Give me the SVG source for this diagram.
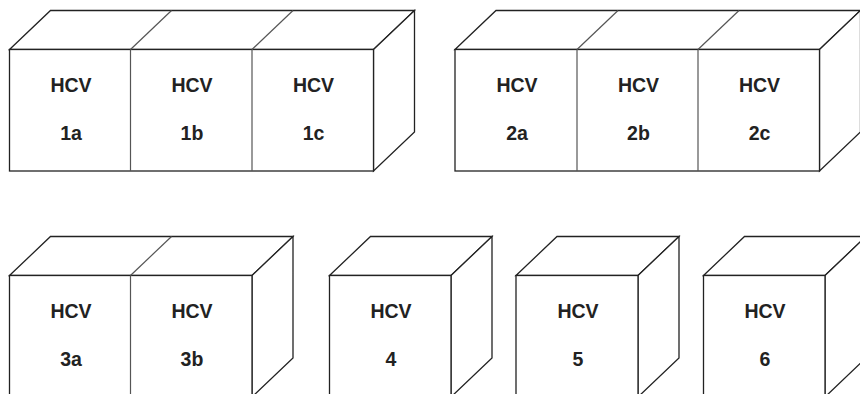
<svg xmlns="http://www.w3.org/2000/svg" width="860" height="394" viewBox="0 0 860 394">
<style>
.f{fill:#fff;stroke:#222;stroke-width:1.3;stroke-linejoin:miter}
.d{stroke:#555;stroke-width:1.2;fill:none}
.t{font-family:"Liberation Sans",Arial,sans-serif;font-weight:bold;font-size:19.5px;fill:#222;text-anchor:middle}
</style>
<rect width="860" height="394" fill="#fff"/>

<!-- Box 1: 1a 1b 1c -->
<g id="box1">
<polygon class="f" points="9.5,49.5 50.5,10.5 414.5,10.5 373.5,49.5"/>
<polygon class="f" points="373.5,49.5 414.5,10.5 414.5,132 373.5,171"/>
<rect class="f" x="9.5" y="49.5" width="364" height="121.5"/>
<line class="d" x1="130.5" y1="49.5" x2="171.5" y2="10.5"/>
<line class="d" x1="252" y1="49.5" x2="293" y2="10.5"/>
<g id="hcv1a"><text class="t" x="71" y="91.8">HCV</text><text class="t" x="71" y="140">1a</text></g>
<g id="hcv1b"><line class="d" x1="130.5" y1="49.5" x2="130.5" y2="171"/><text class="t" x="192" y="91.8">HCV</text><text class="t" x="192" y="140">1b</text></g>
<g id="hcv1c"><line class="d" x1="252" y1="49.5" x2="252" y2="171"/><text class="t" x="313.5" y="91.8">HCV</text><text class="t" x="313.5" y="140">1c</text></g>
</g>

<!-- Box 2: 2a 2b 2c -->
<g id="box2">
<polygon class="f" points="455,49.5 496,10.5 860.5,10.5 819.5,49.5"/>
<polygon class="f" points="819.5,49.5 860.5,10.5 860.5,132 819.5,171"/>
<rect class="f" x="455" y="49.5" width="364.5" height="121.5"/>
<line class="d" x1="577" y1="49.5" x2="618" y2="10.5"/>
<line class="d" x1="698" y1="49.5" x2="739" y2="10.5"/>
<g id="hcv2a"><text class="t" x="517" y="91.8">HCV</text><text class="t" x="517" y="140">2a</text></g>
<g id="hcv2b"><line class="d" x1="577" y1="49.5" x2="577" y2="171"/><text class="t" x="638.5" y="91.8">HCV</text><text class="t" x="638.5" y="140">2b</text></g>
<g id="hcv2c"><line class="d" x1="698" y1="49.5" x2="698" y2="171"/><text class="t" x="759.5" y="91.8">HCV</text><text class="t" x="759.5" y="140">2c</text></g>
</g>

<!-- Box 3: 3a 3b -->
<g id="box3">
<polygon class="f" points="9.5,275.5 50.5,236.5 293,236.5 252,275.5"/>
<polygon class="f" points="252,275.5 293,236.5 293,358 252,397"/>
<rect class="f" x="9.5" y="275.5" width="242.5" height="121.5"/>
<line class="d" x1="130.5" y1="275.5" x2="171.5" y2="236.5"/>
<g id="hcv3a"><text class="t" x="71" y="318">HCV</text><text class="t" x="71" y="366">3a</text></g>
<g id="hcv3b"><line class="d" x1="130.5" y1="275.5" x2="130.5" y2="397"/><text class="t" x="192" y="318">HCV</text><text class="t" x="192" y="366">3b</text></g>
</g>

<!-- Box 4 -->
<g id="hcv4">
<polygon class="f" points="329.5,275.5 370.5,236.5 492,236.5 451,275.5"/>
<polygon class="f" points="451,275.5 492,236.5 492,358 451,397"/>
<rect class="f" x="329.5" y="275.5" width="121.5" height="121.5"/>
<text class="t" x="391" y="318">HCV</text><text class="t" x="391" y="366">4</text>
</g>

<!-- Box 5 -->
<g id="hcv5">
<polygon class="f" points="516,275.5 557,236.5 679,236.5 638,275.5"/>
<polygon class="f" points="638,275.5 679,236.5 679,358 638,397"/>
<rect class="f" x="516" y="275.5" width="122" height="121.5"/>
<text class="t" x="578" y="318">HCV</text><text class="t" x="578" y="366">5</text>
</g>

<!-- Box 6 -->
<g id="hcv6">
<polygon class="f" points="703.5,275.5 744.5,236.5 866,236.5 825,275.5"/>
<polygon class="f" points="825,275.5 866,236.5 866,358 825,397"/>
<rect class="f" x="703.5" y="275.5" width="121.5" height="121.5"/>
<text class="t" x="765" y="318">HCV</text><text class="t" x="765" y="366">6</text>
</g>
</svg>
